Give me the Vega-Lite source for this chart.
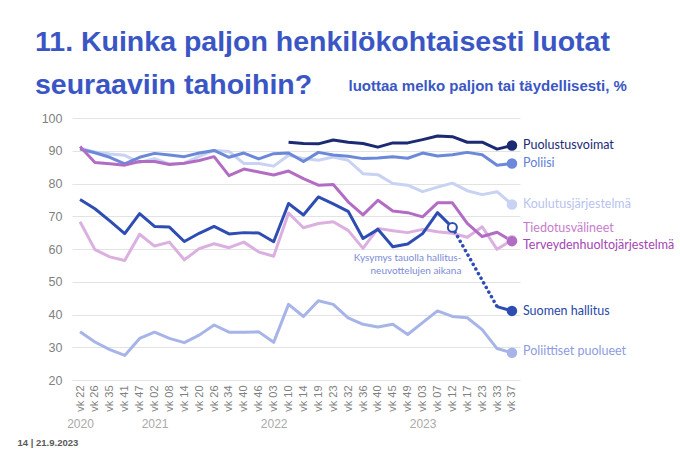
{
"$schema":"https://vega.github.io/schema/vega-lite/v6.json",
"width":448,"height":262,
"autosize":{"type":"none"},
"padding":{"left":72,"top":118,"right":160,"bottom":76},
"background":"white",
"title":{"text":["11. Kuinka paljon henkilökohtaisesti luotat","seuraaviin tahoihin?"],"anchor":"start","frame":"group","dx":-37,"offset":-21,"fontSize":28.5,"lineHeight":43,"font":"Liberation Sans","fontWeight":"bold","color":"#3a56c5"},
"config":{"view":{"stroke":null},"font":"Lato","axisY":{"tickCount":8,"labelOverlap":false,"gridColor":"#e3e3e3"}},
"datasets":{
"d":[
{"s":"Koulutusjärjestelmä","w":"2020-22","v":90.8},{"s":"Koulutusjärjestelmä","w":"2020-26","v":89.6},{"s":"Koulutusjärjestelmä","w":"2020-35","v":89},{"s":"Koulutusjärjestelmä","w":"2020-41","v":88.6},{"s":"Koulutusjärjestelmä","w":"2020-47","v":86.4},{"s":"Koulutusjärjestelmä","w":"2021-02","v":87.6},{"s":"Koulutusjärjestelmä","w":"2021-08","v":86},{"s":"Koulutusjärjestelmä","w":"2021-14","v":86.2},{"s":"Koulutusjärjestelmä","w":"2021-20","v":88.3},{"s":"Koulutusjärjestelmä","w":"2021-26","v":90.1},{"s":"Koulutusjärjestelmä","w":"2021-34","v":89.8},{"s":"Koulutusjärjestelmä","w":"2021-40","v":86.1},{"s":"Koulutusjärjestelmä","w":"2021-46","v":86.1},{"s":"Koulutusjärjestelmä","w":"2022-03","v":85.3},{"s":"Koulutusjärjestelmä","w":"2022-10","v":88.6},{"s":"Koulutusjärjestelmä","w":"2022-14","v":87.6},{"s":"Koulutusjärjestelmä","w":"2022-19","v":87.1},{"s":"Koulutusjärjestelmä","w":"2022-23","v":88.1},{"s":"Koulutusjärjestelmä","w":"2022-32","v":87.1},{"s":"Koulutusjärjestelmä","w":"2022-36","v":83},{"s":"Koulutusjärjestelmä","w":"2022-40","v":82.7},{"s":"Koulutusjärjestelmä","w":"2022-45","v":80},{"s":"Koulutusjärjestelmä","w":"2022-49","v":79.5},{"s":"Koulutusjärjestelmä","w":"2023-03","v":77.5},{"s":"Koulutusjärjestelmä","w":"2023-07","v":78.9},{"s":"Koulutusjärjestelmä","w":"2023-12","v":80.1},{"s":"Koulutusjärjestelmä","w":"2023-17","v":77.8},{"s":"Koulutusjärjestelmä","w":"2023-23","v":76.6},{"s":"Koulutusjärjestelmä","w":"2023-33","v":77.5},{"s":"Koulutusjärjestelmä","w":"2023-37","v":73.6},
{"s":"Tiedotusvälineet","w":"2020-22","v":68.3},{"s":"Tiedotusvälineet","w":"2020-26","v":59.8},{"s":"Tiedotusvälineet","w":"2020-35","v":57.6},{"s":"Tiedotusvälineet","w":"2020-41","v":56.5},{"s":"Tiedotusvälineet","w":"2020-47","v":64.5},{"s":"Tiedotusvälineet","w":"2021-02","v":60.9},{"s":"Tiedotusvälineet","w":"2021-08","v":62.1},{"s":"Tiedotusvälineet","w":"2021-14","v":56.7},{"s":"Tiedotusvälineet","w":"2021-20","v":60.1},{"s":"Tiedotusvälineet","w":"2021-26","v":61.6},{"s":"Tiedotusvälineet","w":"2021-34","v":60.4},{"s":"Tiedotusvälineet","w":"2021-40","v":62.1},{"s":"Tiedotusvälineet","w":"2021-46","v":59.1},{"s":"Tiedotusvälineet","w":"2022-03","v":57.8},{"s":"Tiedotusvälineet","w":"2022-10","v":71},{"s":"Tiedotusvälineet","w":"2022-14","v":66.5},{"s":"Tiedotusvälineet","w":"2022-19","v":67.8},{"s":"Tiedotusvälineet","w":"2022-23","v":68.3},{"s":"Tiedotusvälineet","w":"2022-32","v":65.7},{"s":"Tiedotusvälineet","w":"2022-36","v":60.2},{"s":"Tiedotusvälineet","w":"2022-40","v":66.3},{"s":"Tiedotusvälineet","w":"2022-45","v":65.6},{"s":"Tiedotusvälineet","w":"2022-49","v":65},{"s":"Tiedotusvälineet","w":"2023-03","v":66},{"s":"Tiedotusvälineet","w":"2023-07","v":65.3},{"s":"Tiedotusvälineet","w":"2023-12","v":64.8},{"s":"Tiedotusvälineet","w":"2023-17","v":63.6},{"s":"Tiedotusvälineet","w":"2023-23","v":66.8},{"s":"Tiedotusvälineet","w":"2023-33","v":59.9},{"s":"Tiedotusvälineet","w":"2023-37","v":62.7},
{"s":"Poliittiset puolueet","w":"2020-22","v":34.7},{"s":"Poliittiset puolueet","w":"2020-26","v":31.6},{"s":"Poliittiset puolueet","w":"2020-35","v":29.3},{"s":"Poliittiset puolueet","w":"2020-41","v":27.5},{"s":"Poliittiset puolueet","w":"2020-47","v":32.7},{"s":"Poliittiset puolueet","w":"2021-02","v":34.6},{"s":"Poliittiset puolueet","w":"2021-08","v":32.7},{"s":"Poliittiset puolueet","w":"2021-14","v":31.4},{"s":"Poliittiset puolueet","w":"2021-20","v":33.7},{"s":"Poliittiset puolueet","w":"2021-26","v":36.8},{"s":"Poliittiset puolueet","w":"2021-34","v":34.6},{"s":"Poliittiset puolueet","w":"2021-40","v":34.6},{"s":"Poliittiset puolueet","w":"2021-46","v":34.7},{"s":"Poliittiset puolueet","w":"2022-03","v":31.5},{"s":"Poliittiset puolueet","w":"2022-10","v":43.1},{"s":"Poliittiset puolueet","w":"2022-14","v":39.4},{"s":"Poliittiset puolueet","w":"2022-19","v":44.2},{"s":"Poliittiset puolueet","w":"2022-23","v":43.1},{"s":"Poliittiset puolueet","w":"2022-32","v":39},{"s":"Poliittiset puolueet","w":"2022-36","v":37},{"s":"Poliittiset puolueet","w":"2022-40","v":36.2},{"s":"Poliittiset puolueet","w":"2022-45","v":37},{"s":"Poliittiset puolueet","w":"2022-49","v":33.9},{"s":"Poliittiset puolueet","w":"2023-03","v":37.5},{"s":"Poliittiset puolueet","w":"2023-07","v":41.1},{"s":"Poliittiset puolueet","w":"2023-12","v":39.4},{"s":"Poliittiset puolueet","w":"2023-17","v":39},{"s":"Poliittiset puolueet","w":"2023-23","v":35.4},{"s":"Poliittiset puolueet","w":"2023-33","v":29.6},{"s":"Poliittiset puolueet","w":"2023-37","v":28.3},
{"s":"Poliisi","w":"2020-22","v":90.5},{"s":"Poliisi","w":"2020-26","v":89.4},{"s":"Poliisi","w":"2020-35","v":88},{"s":"Poliisi","w":"2020-41","v":86},{"s":"Poliisi","w":"2020-47","v":88},{"s":"Poliisi","w":"2021-02","v":89.2},{"s":"Poliisi","w":"2021-08","v":88.7},{"s":"Poliisi","w":"2021-14","v":88.2},{"s":"Poliisi","w":"2021-20","v":89.3},{"s":"Poliisi","w":"2021-26","v":90.1},{"s":"Poliisi","w":"2021-34","v":88},{"s":"Poliisi","w":"2021-40","v":89.3},{"s":"Poliisi","w":"2021-46","v":87.5},{"s":"Poliisi","w":"2022-03","v":89.1},{"s":"Poliisi","w":"2022-10","v":89.3},{"s":"Poliisi","w":"2022-14","v":86.7},{"s":"Poliisi","w":"2022-19","v":89.5},{"s":"Poliisi","w":"2022-23","v":88.7},{"s":"Poliisi","w":"2022-32","v":88.3},{"s":"Poliisi","w":"2022-36","v":87.6},{"s":"Poliisi","w":"2022-40","v":87.8},{"s":"Poliisi","w":"2022-45","v":88.2},{"s":"Poliisi","w":"2022-49","v":87.7},{"s":"Poliisi","w":"2023-03","v":89.3},{"s":"Poliisi","w":"2023-07","v":88.4},{"s":"Poliisi","w":"2023-12","v":88.8},{"s":"Poliisi","w":"2023-17","v":89.5},{"s":"Poliisi","w":"2023-23","v":88.8},{"s":"Poliisi","w":"2023-33","v":85.6},{"s":"Poliisi","w":"2023-37","v":86.1},
{"s":"Terveydenhuoltojärjestelmä","w":"2020-22","v":91.3},{"s":"Terveydenhuoltojärjestelmä","w":"2020-26","v":86.4},{"s":"Terveydenhuoltojärjestelmä","w":"2020-35","v":86},{"s":"Terveydenhuoltojärjestelmä","w":"2020-41","v":85.6},{"s":"Terveydenhuoltojärjestelmä","w":"2020-47","v":86.7},{"s":"Terveydenhuoltojärjestelmä","w":"2021-02","v":86.7},{"s":"Terveydenhuoltojärjestelmä","w":"2021-08","v":85.8},{"s":"Terveydenhuoltojärjestelmä","w":"2021-14","v":86.2},{"s":"Terveydenhuoltojärjestelmä","w":"2021-20","v":87},{"s":"Terveydenhuoltojärjestelmä","w":"2021-26","v":88.2},{"s":"Terveydenhuoltojärjestelmä","w":"2021-34","v":82.4},{"s":"Terveydenhuoltojärjestelmä","w":"2021-40","v":84.4},{"s":"Terveydenhuoltojärjestelmä","w":"2021-46","v":83.5},{"s":"Terveydenhuoltojärjestelmä","w":"2022-03","v":82.6},{"s":"Terveydenhuoltojärjestelmä","w":"2022-10","v":83.8},{"s":"Terveydenhuoltojärjestelmä","w":"2022-14","v":81.5},{"s":"Terveydenhuoltojärjestelmä","w":"2022-19","v":79.5},{"s":"Terveydenhuoltojärjestelmä","w":"2022-23","v":79.7},{"s":"Terveydenhuoltojärjestelmä","w":"2022-32","v":74.4},{"s":"Terveydenhuoltojärjestelmä","w":"2022-36","v":70.4},{"s":"Terveydenhuoltojärjestelmä","w":"2022-40","v":74.9},{"s":"Terveydenhuoltojärjestelmä","w":"2022-45","v":71.6},{"s":"Terveydenhuoltojärjestelmä","w":"2022-49","v":71.1},{"s":"Terveydenhuoltojärjestelmä","w":"2023-03","v":69.8},{"s":"Terveydenhuoltojärjestelmä","w":"2023-07","v":74.1},{"s":"Terveydenhuoltojärjestelmä","w":"2023-12","v":74.1},{"s":"Terveydenhuoltojärjestelmä","w":"2023-17","v":67.8},{"s":"Terveydenhuoltojärjestelmä","w":"2023-23","v":63.8},{"s":"Terveydenhuoltojärjestelmä","w":"2023-33","v":65.1},{"s":"Terveydenhuoltojärjestelmä","w":"2023-37","v":62.4},
{"s":"Suomen hallitus","g":"a","w":"2020-22","v":75.1},{"s":"Suomen hallitus","g":"a","w":"2020-26","v":72.3},{"s":"Suomen hallitus","g":"a","w":"2020-35","v":68.6},{"s":"Suomen hallitus","g":"a","w":"2020-41","v":64.7},{"s":"Suomen hallitus","g":"a","w":"2020-47","v":70.8},{"s":"Suomen hallitus","g":"a","w":"2021-02","v":66.9},{"s":"Suomen hallitus","g":"a","w":"2021-08","v":66.7},{"s":"Suomen hallitus","g":"a","w":"2021-14","v":62.3},{"s":"Suomen hallitus","g":"a","w":"2021-20","v":64.8},{"s":"Suomen hallitus","g":"a","w":"2021-26","v":66.9},{"s":"Suomen hallitus","g":"a","w":"2021-34","v":64.6},{"s":"Suomen hallitus","g":"a","w":"2021-40","v":65},{"s":"Suomen hallitus","g":"a","w":"2021-46","v":64.9},{"s":"Suomen hallitus","g":"a","w":"2022-03","v":62.2},{"s":"Suomen hallitus","g":"a","w":"2022-10","v":73.9},{"s":"Suomen hallitus","g":"a","w":"2022-14","v":70.4},{"s":"Suomen hallitus","g":"a","w":"2022-19","v":75.9},{"s":"Suomen hallitus","g":"a","w":"2022-23","v":73.8},{"s":"Suomen hallitus","g":"a","w":"2022-32","v":71.5},{"s":"Suomen hallitus","g":"a","w":"2022-36","v":63.2},{"s":"Suomen hallitus","g":"a","w":"2022-40","v":66},{"s":"Suomen hallitus","g":"a","w":"2022-45","v":60.7},{"s":"Suomen hallitus","g":"a","w":"2022-49","v":61.5},{"s":"Suomen hallitus","g":"a","w":"2023-03","v":64.7},{"s":"Suomen hallitus","g":"a","w":"2023-07","v":71.1},{"s":"Suomen hallitus","g":"a","w":"2023-12","v":66.6},{"s":"Suomen hallitus","g":"b","w":"2023-33","v":42.4},{"s":"Suomen hallitus","g":"b","w":"2023-37","v":41.1},
{"s":"Puolustusvoimat","w":"2022-10","v":92.6},{"s":"Puolustusvoimat","w":"2022-14","v":92.2},{"s":"Puolustusvoimat","w":"2022-19","v":92.1},{"s":"Puolustusvoimat","w":"2022-23","v":93.3},{"s":"Puolustusvoimat","w":"2022-32","v":92.6},{"s":"Puolustusvoimat","w":"2022-36","v":92.2},{"s":"Puolustusvoimat","w":"2022-40","v":91.1},{"s":"Puolustusvoimat","w":"2022-45","v":92.4},{"s":"Puolustusvoimat","w":"2022-49","v":92.4},{"s":"Puolustusvoimat","w":"2023-03","v":93.4},{"s":"Puolustusvoimat","w":"2023-07","v":94.5},{"s":"Puolustusvoimat","w":"2023-12","v":94.3},{"s":"Puolustusvoimat","w":"2023-17","v":92.6},{"s":"Puolustusvoimat","w":"2023-23","v":92.6},{"s":"Puolustusvoimat","w":"2023-33","v":90.5},{"s":"Puolustusvoimat","w":"2023-37","v":91.6}
],
"lab":[
{"s":"Puolustusvoimat","w":"2023-37","v":91.8},
{"s":"Poliisi","w":"2023-37","v":86.3},
{"s":"Koulutusjärjestelmä","w":"2023-37","v":73.7},
{"s":"Tiedotusvälineet","w":"2023-37","v":66.4},
{"s":"Terveydenhuoltojärjestelmä","w":"2023-37","v":61.2},
{"s":"Suomen hallitus","w":"2023-37","v":41.1},
{"s":"Poliittiset puolueet","w":"2023-37","v":28.9}
]
},
"encoding":{
  "y":{"field":"v","type":"quantitative","scale":{"domain":[20,100],"nice":false,"zero":false},
   "axis":{"tickCount":8,"labelOverlap":false,"grid":true,"gridColor":"#e3e3e3","gridWidth":1,"domain":false,"ticks":false,"labelFontSize":12.5,"labelColor":"#7f7f7f","labelFont":"Liberation Sans","labelPadding":10,
    "title":"luottaa melko paljon tai täydellisesti, %","titleAngle":0,"titleAlign":"left","titleBaseline":"alphabetic","titleX":276,"titleY":-28,"titleFontSize":15,"titleFont":"Liberation Sans","titleFontWeight":"bold","titleColor":"#3a56c5"}}
},
"resolve":{"axis":{"x":"independent"},"scale":{"color":"independent"}},
"layer":[
{"data":{"name":"d"},
 "mark":{"type":"line","strokeWidth":3,"strokeJoin":"round"},
 "encoding":{
  "x":{"field":"w","type":"ordinal","scale":{"type":"point","padding":0.54},
   "axis":{"labelExpr":"'vk ' + split(datum.value,'-')[1]","labelAngle":-90,"labelFontSize":11,"labelColor":"#7f7f7f","labelFont":"Liberation Sans","ticks":false,"domain":false,"grid":false,"labelPadding":5,"title":null}},
  "color":{"field":"s","type":"nominal","legend":null,"scale":{"domain":["Puolustusvoimat","Poliisi","Koulutusjärjestelmä","Tiedotusvälineet","Terveydenhuoltojärjestelmä","Suomen hallitus","Poliittiset puolueet"],"range":["#1b2a73","#6c88d8","#c8d2f2","#dbb0e0","#b36cc4","#2e4db3","#a7b4e8"]}},
  "detail":{"field":"g","type":"nominal"}
 }},
{"data":{"name":"d"},
 "transform":[{"filter":"datum.s == 'Suomen hallitus' && (datum.w == '2023-12' || datum.w == '2023-33')"}],
 "mark":{"type":"line","strokeWidth":3.5,"strokeDash":[0.1,5.2],"strokeCap":"round","color":"#2e4db3"},
 "encoding":{
  "x":{"field":"w","type":"ordinal","axis":null}
 }},
{"data":{"name":"d"},
 "transform":[{"filter":"datum.s == 'Suomen hallitus' && datum.w == '2023-12'"}],
 "mark":{"type":"point","filled":true,"fill":"white","stroke":"#2e4db3","strokeWidth":2,"size":80,"opacity":1},
 "encoding":{
  "x":{"field":"w","type":"ordinal","axis":null}
 }},
{"data":{"name":"d"},
 "transform":[{"filter":"datum.w == '2023-37'"}],
 "mark":{"type":"circle","size":110,"opacity":1},
 "encoding":{
  "x":{"field":"w","type":"ordinal","axis":null},
  "color":{"field":"s","type":"nominal","legend":null,"scale":{"domain":["Puolustusvoimat","Poliisi","Koulutusjärjestelmä","Tiedotusvälineet","Terveydenhuoltojärjestelmä","Suomen hallitus","Poliittiset puolueet"],"range":["#1b2a73","#6c88d8","#c8d2f2","#dbb0e0","#b36cc4","#2e4db3","#a7b4e8"]}}
 }},
{"data":{"name":"lab"},
 "mark":{"type":"text","align":"left","baseline":"middle","dx":11,"fontSize":12.5,"font":"Lato"},
 "encoding":{
  "x":{"field":"w","type":"ordinal","axis":null},
  "text":{"field":"s"},
  "color":{"field":"s","type":"nominal","legend":null,"scale":{"domain":["Puolustusvoimat","Poliisi","Koulutusjärjestelmä","Tiedotusvälineet","Terveydenhuoltojärjestelmä","Suomen hallitus","Poliittiset puolueet"],"range":["#1b2a73","#5f7ed6","#b7c3ee","#c77dcc","#a446b4","#2848a8","#8d9ce0"]}}
 }},
{"data":{"values":[{"w":"2023-12","v":58.8}]},
 "mark":{"type":"text","text":["Kysymys tauolla hallitus-","neuvottelujen aikana"],"align":"right","baseline":"top","dx":9,"fontSize":10,"lineHeight":13.5,"font":"Lato","color":"#7b8bd6"},
 "encoding":{
  "x":{"field":"w","type":"ordinal",
   "axis":{"orient":"bottom","offset":38,"values":["2020-22","2021-02","2022-03","2023-03"],"labelExpr":"slice(datum.value,0,4)","labelAngle":0,"ticks":false,"tickSize":0,"domain":false,"grid":false,"labelPadding":0,"labelFontSize":12,"labelColor":"#aaaaaa","labelFont":"Liberation Sans",
    "title":"14  |  21.9.2023","titleX":-55,"titleY":27,"titleAlign":"left","titleAnchor":"start","titleBaseline":"alphabetic","titleFontSize":9.5,"titleFont":"Liberation Sans","titleFontWeight":"bold","titleColor":"#595959"}}
 }}
]
}
